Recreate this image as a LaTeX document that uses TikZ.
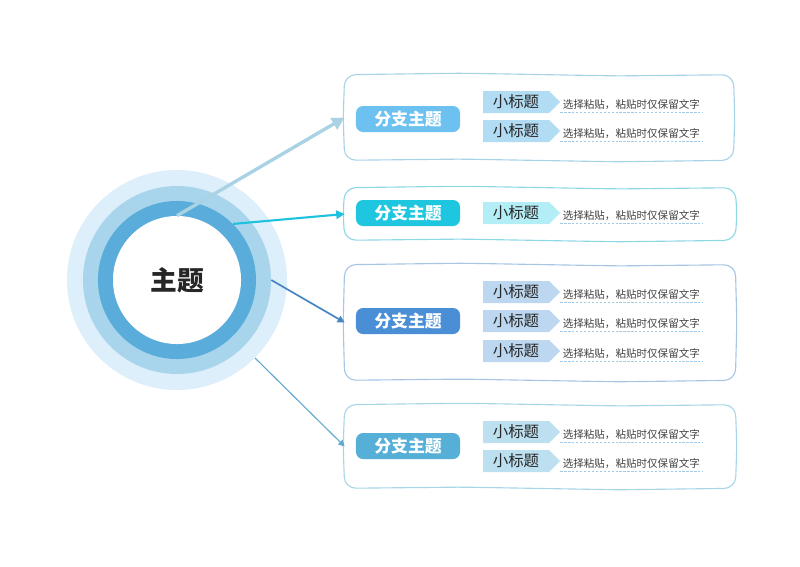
\documentclass[tikz,border=0pt]{standalone}
\usepackage{fontspec}
\setmainfont{Noto Sans CJK SC}
\usetikzlibrary{arrows.meta,positioning,calc,shapes.symbols}
\definecolor{ringOut}{HTML}{DDEFFA}
\definecolor{ringMid}{HTML}{A9D5EC}
\definecolor{ringIn}{HTML}{5AADDB}
\definecolor{brA}{HTML}{6CC1F0}
\definecolor{brB}{HTML}{1EC6DF}
\definecolor{brC}{HTML}{4A8ED6}
\definecolor{brD}{HTML}{56AFD7}
\definecolor{subA}{HTML}{B1DCF3}
\definecolor{subB}{HTML}{B3EDF5}
\definecolor{subC}{HTML}{BCD7EF}
\definecolor{subD}{HTML}{BDE0F0}
\definecolor{frA}{HTML}{A7D3E8}
\definecolor{frB}{HTML}{8ED8E6}
\definecolor{frC}{HTML}{A6C6E4}
\definecolor{frD}{HTML}{A8D5E8}
\definecolor{lnA}{HTML}{A9D3E5}
\definecolor{lnB}{HTML}{1CC2DE}
\definecolor{lnC}{HTML}{4784C3}
\definecolor{lnD}{HTML}{62A8CF}
\definecolor{dashc}{HTML}{9FCBE8}
\tikzset{ring/.style={circle,fill=#1,inner sep=0pt},
  frame/.style={inner sep=0pt},
  branch/.style={fill=#1,rounded corners=5pt,minimum width=2.6cm,minimum height=0.65cm,
    inner sep=0pt,text=white,font=\bfseries\fontsize{12}{12}\selectfont},
  sub/.style={signal,signal to=east,signal pointer angle=90,fill=#1,minimum width=1.925cm,
    minimum height=0.55cm,inner sep=0pt,text=black!85,font=\fontsize{11}{11}\selectfont},
  note/.style={inner sep=1.5pt,text=black!75,font=\fontsize{7.5}{7.5}\selectfont},
  uline/.style={dashc,line width=0.6pt,dash pattern=on 1.6pt off 1.2pt},
  arr/.style={-{Triangle[length=#1,width=#1]}}}
% hand-drawn looking border round a frame node
\newcommand{\wavyframe}[2]{%
  \draw[#2,line width=0.8pt,rounded corners=8pt]
    ($(#1.south west)!0.5!(#1.north west)+(-1.5,0)$) -- (#1.north west)
    -- ($(#1.north west)!0.3!(#1.north east)+(0,-1.5)$)
    -- ($(#1.north west)!0.7!(#1.north east)+(0,1.2)$) -- (#1.north east)
    -- ($(#1.north east)!0.5!(#1.south east)+(1.5,0)$) -- (#1.south east)
    -- ($(#1.south east)!0.3!(#1.south west)+(0,1.5)$)
    -- ($(#1.south east)!0.7!(#1.south west)+(0,-1.2)$) -- (#1.south west) -- cycle;}

\begin{document}
\begin{tikzpicture}[x=0.025cm,y=-0.025cm]
\useasboundingbox (0,0) rectangle (800,566);
% central topic
\node[ring=ringOut,minimum size=5.5cm] (r3) at (177,280) {};
\node[ring=ringMid,minimum size=4.7cm] (r2) at (177,280) {};
\node[ring=ringIn,minimum size=3.95cm] (r1) at (177,280) {};
\node[ring=white,minimum size=3.2cm,text=black!85,font=\bfseries\fontsize{19}{19}\selectfont] (hub) at (177,280) {主题};
% frames
\node[frame,minimum width=9.7cm,minimum height=2.125cm] (f1) at (539,117.5) {};
\node[frame,minimum width=9.75cm,minimum height=1.3cm] (f2) at (540,214) {};
\node[frame,minimum width=9.75cm,minimum height=2.875cm] (f3) at (540,322.5) {};
\node[frame,minimum width=9.75cm,minimum height=2.075cm] (f4) at (540,446.5) {};
\wavyframe{f1}{frA}
\wavyframe{f2}{frB}
\wavyframe{f3}{frC}
\wavyframe{f4}{frD}
% connectors
\draw[arr=9pt,lnA,line width=2.4pt] (hub.90) -- (f1.west);
\draw[arr=6pt,lnB,line width=1.5pt] (r1.45) -- (f2.west);
\draw[arr=5pt,lnC,line width=1.2pt] (r2.0) -- (f3.west);
\draw[arr=4.5pt,lnD,line width=0.8pt] (r3.-45) -- (f4.west);
% branch 1
\node[branch=brA] (b1) at (408,119) {分支主题};
\node[sub=subA] (s11) at (516,102) {小标题};
\node[sub=subA] (s12) at (516,131) {小标题};
\node[note,right=0pt of s11,yshift=-2pt] (t11) {选择粘贴，粘贴时仅保留文字};
\node[note,right=0pt of s12,yshift=-2pt] (t12) {选择粘贴，粘贴时仅保留文字};
\draw[uline] (t11.south west) -- (t11.south east);
\draw[uline] (t12.south west) -- (t12.south east);
% branch 2
\node[branch=brB] (b2) at (408,213) {分支主题};
\node[sub=subB] (s21) at (516,213) {小标题};
\node[note,right=0pt of s21,yshift=-2pt] (t21) {选择粘贴，粘贴时仅保留文字};
\draw[uline] (t21.south west) -- (t21.south east);
% branch 3
\node[branch=brC] (b3) at (408,321) {分支主题};
\node[sub=subC] (s31) at (516,292) {小标题};
\node[sub=subC] (s32) at (516,321) {小标题};
\node[sub=subC] (s33) at (516,351) {小标题};
\node[note,right=0pt of s31,yshift=-2pt] (t31) {选择粘贴，粘贴时仅保留文字};
\node[note,right=0pt of s32,yshift=-2pt] (t32) {选择粘贴，粘贴时仅保留文字};
\node[note,right=0pt of s33,yshift=-2pt] (t33) {选择粘贴，粘贴时仅保留文字};
\draw[uline] (t31.south west) -- (t31.south east);
\draw[uline] (t32.south west) -- (t32.south east);
\draw[uline] (t33.south west) -- (t33.south east);
% branch 4
\node[branch=brD] (b4) at (408,446) {分支主题};
\node[sub=subD] (s41) at (516,432) {小标题};
\node[sub=subD] (s42) at (516,461) {小标题};
\node[note,right=0pt of s41,yshift=-2pt] (t41) {选择粘贴，粘贴时仅保留文字};
\node[note,right=0pt of s42,yshift=-2pt] (t42) {选择粘贴，粘贴时仅保留文字};
\draw[uline] (t41.south west) -- (t41.south east);
\draw[uline] (t42.south west) -- (t42.south east);
\end{tikzpicture}
\end{document}
